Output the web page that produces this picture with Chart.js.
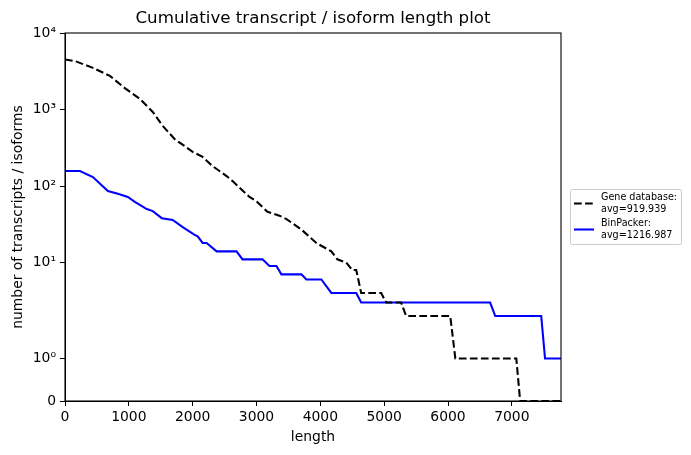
<!DOCTYPE html>
<html>
<head>
<meta charset="utf-8">
<script src="https://cdn.jsdelivr.net/npm/chart.js@4.4.1/dist/chart.umd.min.js"></script>
<style>
  html, body { margin: 0; padding: 0; background: #fff; }
  #wrap { width: 691px; height: 455px; }
</style>
</head>
<body>
<div id="wrap"><canvas id="lengthChart" width="691" height="455"></canvas></div>
<script>
// values
const geneLengths = [0, 156, 437, 703, 937, 1172, 1375, 1531, 1719, 2000, 2156, 2312, 2531, 2625, 2890, 3000, 3172, 3359, 3469, 3703, 3937, 4172, 4266, 4406, 4500, 4562, 4640, 4953, 5031, 5265, 5344, 6035, 6115, 7070, 7130, 7770];
const geneCounts = [4500, 4300, 3500, 2750, 1900, 1380, 930, 610, 410, 280, 240, 182, 135, 116, 72, 63, 46, 41, 37, 27, 18, 14, 11, 10, 8, 8, 4, 4, 3, 3, 2, 2, 1, 1, 0, 0];

const binLengths = [0, 234, 437, 672, 828, 984, 1094, 1281, 1375, 1516, 1687, 1844, 2031, 2078, 2156, 2219, 2375, 2687, 2781, 3094, 3203, 3312, 3390, 3703, 3781, 4016, 4172, 4562, 4640, 6660, 6740, 7460, 7520, 7770];
const binCounts = [157, 157, 131, 86, 79, 72, 62, 50, 47, 38, 36, 29, 23, 22, 18, 18, 14, 14, 11, 11, 9, 9, 7, 7, 6, 6, 4, 4, 3, 3, 2, 2, 1, 1];

const seriesNames = [['Gene database:', 'avg=919.939'], ['BinPacker:', 'avg=1216.987']];
const xTicks = [0, 1000, 2000, 3000, 4000, 5000, 6000, 7000];
const yTicks = [0, 1, 10, 100, 1000, 10000];
const xMax = 7770;
const yMax = 10000;

// symlog transform (linthresh 2, linscale 1, base 10) like matplotlib
const LINTHRESH = 2;
const LINSCALE = 1 / (1 - 1 / 10);
function symlog(v) {
  const a = Math.abs(v);
  const t = a <= LINTHRESH ? a * LINSCALE / LINTHRESH : LINSCALE + Math.log10(a / LINTHRESH);
  return Math.sign(v) * t;
}
function symexp(t) {
  const a = Math.abs(t);
  const v = a <= LINSCALE ? a * LINTHRESH / LINSCALE : LINTHRESH * Math.pow(10, a - LINSCALE);
  return Math.sign(t) * v;
}

class SymlogScale extends Chart.Scale {
  determineDataLimits() {
    this.min = this.options.min;
    this.max = this.options.max;
  }
  buildTicks() {
    return yTicks.map(v => ({ value: v }));
  }
  getLabelForValue(v) {
    return String(v);
  }
  configure() {
    super.configure();
    this._tMin = symlog(this.min);
    this._tRange = symlog(this.max) - this._tMin;
  }
  getPixelForValue(v) {
    return this.getPixelForDecimal((symlog(v) - this._tMin) / this._tRange);
  }
  getValueForPixel(p) {
    return symexp(this._tMin + this.getDecimalForPixel(p) * this._tRange);
  }
}
SymlogScale.id = 'symlog';
SymlogScale.defaults = {};
Chart.register(SymlogScale);

const sup = { '0': '\u2070', '1': '\u00b9', '2': '\u00b2', '3': '\u00b3', '4': '\u2074' };
function powLabel(v) {
  if (v === 0) return '0';
  return '10' + sup[String(Math.round(Math.log10(v)))];
}

const FONT = 'DejaVu Sans';
const LW = 2.08;            // 1.5pt at 100 dpi
const DASH = [7.7, 3.33];   // matplotlib "--" scaled by lw

const framePlugin = {
  id: 'frame',
  afterDatasetsDraw(chart) {
    const { ctx, chartArea: a } = chart;
    ctx.save();
    ctx.strokeStyle = '#000';
    ctx.lineWidth = 1.1;
    ctx.strokeRect(a.left, a.top, a.right - a.left, a.bottom - a.top);
    ctx.restore();
  }
};

const legendPlugin = {
  id: 'sideLegend',
  afterDraw(chart) {
    const { ctx } = chart;
    const bx = 570.5, by = 189.5, bw = 111, bh = 55;
    ctx.save();
    ctx.fillStyle = 'rgba(255,255,255,0.8)';
    ctx.strokeStyle = '#cccccc';
    ctx.lineWidth = 1;
    ctx.beginPath();
    ctx.roundRect(bx, by, bw, bh, 2);
    ctx.fill();
    ctx.stroke();
    ctx.font = '9.6px "' + FONT + '"';
    ctx.textBaseline = 'middle';
    ctx.textAlign = 'left';
    chart.data.datasets.forEach((ds, i) => {
      const y0 = 197.5 + i * 26;
      ctx.strokeStyle = ds.borderColor;
      ctx.lineWidth = ds.borderWidth;
      ctx.setLineDash(ds.borderDash || []);
      ctx.beginPath();
      ctx.moveTo(574, y0 + 6);
      ctx.lineTo(594, y0 + 6);
      ctx.stroke();
      ctx.setLineDash([]);
      ctx.fillStyle = '#000';
      seriesNames[i].forEach((t, k) => ctx.fillText(t, 601, y0 + k * 12));
    });
    ctx.restore();
  }
};

new Chart(document.getElementById('lengthChart').getContext('2d'), {
  type: 'line',
  data: {
    datasets: [
      {
        label: seriesNames[0].join(' '),
        data: geneLengths.map((x, i) => ({ x: x, y: geneCounts[i] })),
        borderColor: '#000000',
        borderWidth: LW,
        borderDash: DASH,
        pointRadius: 0,
        fill: false,
        tension: 0
      },
      {
        label: seriesNames[1].join(' '),
        data: binLengths.map((x, i) => ({ x: x, y: binCounts[i] })),
        borderColor: '#0000ff',
        borderWidth: LW,
        pointRadius: 0,
        fill: false,
        tension: 0
      }
    ]
  },
  options: {
    responsive: false,
    animation: false,
    devicePixelRatio: 1,
    layout: { padding: { left: 0, right: 130, top: 0, bottom: 0 } },
    plugins: {
      legend: { display: false },
      tooltip: { enabled: false },
      title: {
        display: true,
        fullSize: false,
        text: 'Cumulative transcript / isoform length plot',
        color: '#000',
        font: { family: FONT, size: 16.67, weight: 'normal' },
        padding: { top: 8.5, bottom: 4.5 }
      }
    },
    scales: {
      x: {
        type: 'linear',
        min: 0,
        max: xMax,
        afterBuildTicks: s => { s.ticks = xTicks.map(v => ({ value: v })); },
        afterFit: s => { s.height = 54; },
        ticks: {
          color: '#000',
          font: { family: FONT, size: 13.9 },
          padding: 3,
          maxRotation: 0,
          callback: v => String(v)
        },
        grid: { display: true, drawOnChartArea: false, drawTicks: true, tickLength: 5, tickColor: '#000' },
        border: { display: true, color: '#000' },
        title: {
          display: true,
          text: 'length',
          color: '#000',
          font: { family: FONT, size: 13.9 },
          padding: { top: 2, bottom: 9.7 }
        }
      },
      y: {
        type: 'symlog',
        position: 'left',
        min: 0,
        max: yMax,
        afterFit: s => { s.width = 65; },
        ticks: {
          color: '#000',
          font: { family: FONT, size: 13.9 },
          padding: 4,
          callback: v => powLabel(v)
        },
        grid: { display: true, drawOnChartArea: false, drawTicks: true, tickLength: 5, tickColor: '#000' },
        border: { display: true, color: '#000' },
        title: {
          display: true,
          text: 'number of transcripts / isoforms',
          color: '#000',
          font: { family: FONT, size: 13.9 },
          padding: { top: 9.7, bottom: 2 }
        }
      }
    }
  },
  plugins: [framePlugin, legendPlugin]
});
</script>
</body>
</html>
